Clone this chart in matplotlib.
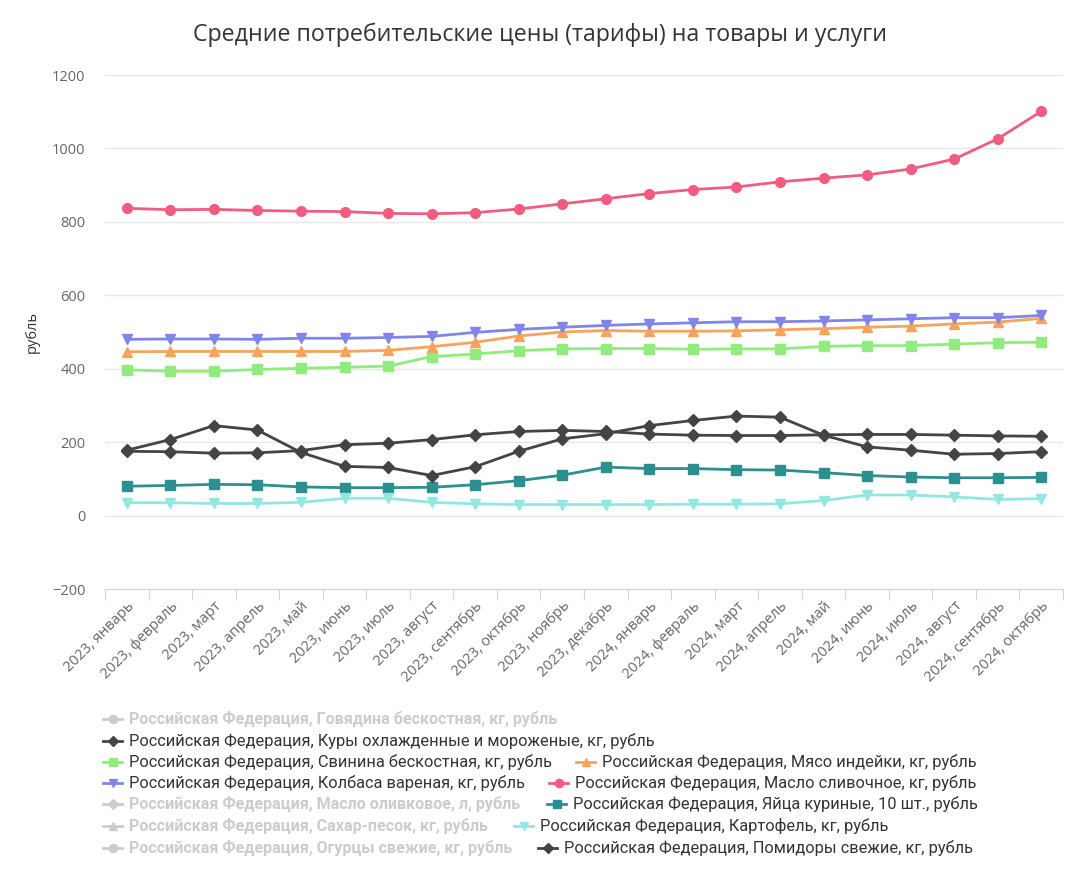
import numpy as np
import matplotlib as mpl
mpl.use('Agg')
import matplotlib.pyplot as plt
from matplotlib.lines import Line2D

plt.rcParams['font.family'] = ['Open Sans', 'DejaVu Sans']

months = ['2023, январь', '2023, февраль', '2023, март', '2023, апрель', '2023, май',
          '2023, июнь', '2023, июль', '2023, август', '2023, сентябрь', '2023, октябрь',
          '2023, ноябрь', '2023, декабрь', '2024, январь', '2024, февраль', '2024, март',
          '2024, апрель', '2024, май', '2024, июнь', '2024, июль', '2024, август',
          '2024, сентябрь', '2024, октябрь']

# values (rubles)
chicken = [175, 174, 170, 171, 177, 193, 197, 207, 220, 229, 232, 229, 222, 219, 218, 218,
           220, 221, 221, 219, 217, 216]
pork = [397, 393, 393, 398, 401, 404, 407, 433, 440, 449, 454, 455, 455, 453, 454, 454,
        461, 463, 463, 467, 471, 472]
turkey = [446, 447, 447, 447, 447, 447, 450, 460, 472, 489, 500, 504, 502, 502, 503, 506,
          509, 513, 516, 522, 527, 537]
sausage = [480, 481, 481, 480, 483, 483, 485, 488, 499, 507, 513, 518, 522, 525, 528, 528,
           530, 533, 536, 539, 539, 545]
butter = [837, 833, 834, 831, 829, 828, 823, 822, 825, 835, 849, 863, 877, 888, 895, 909,
          919, 928, 944, 971, 1026, 1101]
eggs = [80, 82, 85, 84, 78, 76, 76, 77, 84, 95, 110, 132, 128, 128, 125, 124,
        117, 109, 105, 103, 103, 104]
potato = [35, 35, 33, 33, 36, 47, 47, 36, 32, 30, 30, 30, 30, 31, 31, 32,
          41, 56, 56, 51, 44, 46]
tomato = [178, 207, 245, 233, 172, 134, 131, 109, 133, 175, 209, 223, 245, 259, 271, 268,
          219, 187, 178, 167, 169, 174]

prefix = 'Российская Федерация, '
names = ['Говядина бескостная, кг, рубль', 'Куры охлажденные и мороженые, кг, рубль',
         'Свинина бескостная, кг, рубль', 'Мясо индейки, кг, рубль',
         'Колбаса вареная, кг, рубль', 'Масло сливочное, кг, рубль',
         'Масло оливковое, л, рубль', 'Яйца куриные, 10 шт., рубль',
         'Сахар-песок, кг, рубль', 'Картофель, кг, рубль',
         'Огурцы свежие, кг, рубль', 'Помидоры свежие, кг, рубль']
series = [None, chicken, pork, turkey, sausage, butter, None, eggs, None, potato, None, tomato]
colors = ['#7cb5ec', '#434348', '#90ed7d', '#f7a35c', '#8085e9', '#f15c80',
          '#e4d354', '#2b908f', '#f45b5b', '#91e8e1', '#7cb5ec', '#434348']
markers = ['o', 'D', 's', '^', 'v', 'o', 'D', 's', '^', 'v', 'o', 'D']
msizes = [7, 6, 7, 7.5, 7.5, 7, 6, 7, 7.5, 7.5, 7, 6]

W, H = 1084, 872
fig = plt.figure(figsize=(W / 100, H / 100), dpi=100)
ax = fig.add_axes([105 / W, 1 - 589 / H, (1063 - 105) / W, (589 - 75) / H])

x = np.arange(len(months))
for data, c, m, ms in zip(series, colors, markers, msizes):
    if data is None:
        continue
    ax.plot(x, data, color=c, marker=m, markersize=ms, linewidth=2, zorder=3)

ax.set_xlim(-0.5, len(months) - 0.5)
ax.set_ylim(-200, 1200)
ax.set_yticks(np.arange(-200, 1201, 200))
ax.yaxis.grid(True, color='#e6e6e6', linewidth=1)
ax.set_axisbelow(True)
for s in ['top', 'right', 'left']:
    ax.spines[s].set_visible(False)
ax.spines['bottom'].set_color('#ccd6eb')
ax.tick_params(axis='y', length=0, pad=14, labelsize=10.5, labelcolor='#666666')

ax.set_xticks(np.arange(-0.5, len(months)), minor=False)
ax.set_xticklabels([])
ax.tick_params(axis='x', which='major', length=8, color='#ccd6eb')
ax.set_xticks(x, minor=True)
ax.set_xticklabels(months, minor=True, rotation=45, ha='right', rotation_mode='anchor',
                   fontsize=10.5, color='#666666')
ax.tick_params(axis='x', which='minor', length=0, pad=7)

ax.set_ylabel('рубль', fontsize=10.5, color='#333333')
ax.yaxis.set_label_coords(-65 / (1063 - 105), 0.5)

fig.text(540 / W, 1 - 35 / H, 'Средние потребительские цены (тарифы) на товары и услуги',
         ha='center', va='center', fontsize=16.7, color='#333333')

# legend, laid out like the original
legend_pos = [(103, 719), (103, 741), (103, 762), (576, 762), (103, 783), (549, 783),
              (103, 804), (547, 804), (103, 826), (514, 826), (103, 848), (538, 848)]
for i, (px, py) in enumerate(legend_pos):
    hidden = series[i] is None
    col = '#cccccc' if hidden else colors[i]
    fy = 1 - py / H
    fig.add_artist(Line2D([px / W, (px + 19) / W], [fy, fy], color=col, linewidth=2,
                          transform=fig.transFigure))
    fig.add_artist(Line2D([(px + 9.5) / W], [fy], color=col, marker=markers[i],
                          markersize=msizes[i] * 0.85, transform=fig.transFigure))
    fig.text((px + 26) / W, fy, prefix + names[i], ha='left', va='center',
             fontsize=11.6 if hidden else 11.8,
             color='#cccccc' if hidden else '#333333', family=['Roboto', 'DejaVu Sans'],
             fontweight='bold' if hidden else 'normal')

fig.savefig('out.png', dpi=100)
plt.close()
